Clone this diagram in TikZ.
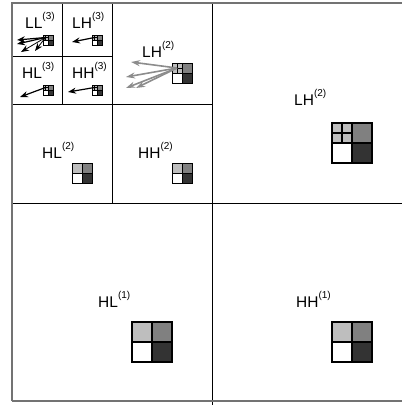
\documentclass[tikz,border=0pt]{standalone}
\usepackage{fontspec}
\setmainfont{Liberation Sans}
\usetikzlibrary{arrows.meta}
\definecolor{lg}{HTML}{BEBEBE}
\definecolor{mg}{HTML}{808080}
\definecolor{dg}{HTML}{333333}
\definecolor{ag}{HTML}{8C8C8C}
\newcommand\lbl[2]{#1\raisebox{8.5pt}{\fontsize{10}{10}\selectfont(#2)}}
\newcommand\waveicon[6]{% name, x, y, size, subdivide, line width
\begin{scope}[shift={(#2,#3)}]
\fill[lg] (0,0) rectangle ({#4/2},{#4/2});
\fill[mg] ({#4/2},0) rectangle (#4,{#4/2});
\fill[white] (0,{#4/2}) rectangle ({#4/2},#4);
\fill[dg] ({#4/2},{#4/2}) rectangle (#4,#4);
\ifnum#5=1 \draw[line width=#6] ({#4/4},0) -- ({#4/4},{#4/2}) (0,{#4/4}) -- ({#4/2},{#4/4});\fi
\draw[line width=#6] (0,0) rectangle (#4,#4) ({#4/2},0) -- ({#4/2},#4) (0,{#4/2}) -- (#4,{#4/2});
\coordinate (#1) at ({#4/4},{#4/4});
\end{scope}}
\tikzset{
  lab/.style={anchor=base west, inner sep=0pt, font=\fontsize{15.5}{17}\selectfont},
  grid/.style={black, line width=1pt},
  outer/.style={black!55, line width=1.6pt},
  barrow/.style={-{Stealth[length=8pt,width=6pt]}, line width=1.2pt, black},
  garrow/.style={-{Stealth[length=9pt,width=6pt]}, line width=1.6pt, ag},
}
\begin{document}
\begin{tikzpicture}[x=1pt,y=-1pt]
\useasboundingbox (0,0) rectangle (402,405);
\begin{scope}
\clip (0,0) rectangle (402,405);
% grid lines
\draw[grid] (212,3) -- (212,405);
\draw[grid] (12,203) -- (402,203);
\draw[grid] (112,3) -- (112,203);
\draw[grid] (12,104) -- (212,104);
\draw[grid] (62,3) -- (62,104);
\draw[grid] (12,56) -- (112,56);
% outer frame
\draw[outer] (12,401) -- (12,3) -- (404,3);
\draw[outer] (12,401) -- (404,401);
\end{scope}
% labels
\node[lab] (tLL3) at (25,28) {\lbl{LL}{3}};
\node[lab] (tLH3) at (72,28) {\lbl{LH}{3}};
\node[lab] (tHL3) at (22,78) {\lbl{HL}{3}};
\node[lab] (tHH3) at (72,78) {\lbl{HH}{3}};
\node[lab] (tLH2a) at (142,57) {\lbl{LH}{2}};
\node[lab] (tHL2) at (42,158) {\lbl{HL}{2}};
\node[lab] (tHH2) at (138,158) {\lbl{HH}{2}};
\node[lab] (tLH2b) at (294,105) {\lbl{LH}{2}};
\node[lab] (tHL1) at (98,307) {\lbl{HL}{1}};
\node[lab] (tHH1) at (296,307) {\lbl{HH}{1}};
% icons
\waveicon{iLL3}{43}{35}{10}{1}{0.8pt}
\waveicon{iLH3}{92}{35}{10}{1}{0.8pt}
\waveicon{iHL3}{43}{85}{10}{1}{0.8pt}
\waveicon{iHH3}{92}{85}{10}{1}{0.8pt}
\waveicon{iLH2a}{172}{63}{20}{1}{1pt}
\waveicon{iHL2}{72}{163}{20}{0}{1pt}
\waveicon{iHH2}{172}{163}{20}{0}{1pt}
\waveicon{iLH2b}{332}{123}{40}{1}{1.2pt}
\waveicon{iHL1}{132}{322}{40}{0}{1.2pt}
\waveicon{iHH1}{332}{322}{40}{0}{1.2pt}
% arrow end points
\coordinate (eLL3a) at (17,40);
\coordinate (eLL3b) at (17,44);
\coordinate (eLL3c) at (21,52);
\coordinate (eLL3d) at (35,51);
\coordinate (eLH3) at (72,42);
\coordinate (eHL3) at (20,97);
\coordinate (eHH3) at (68,92);
\coordinate (eLH2a) at (131,62);
\coordinate (eLH2b) at (126,77);
\coordinate (eLH2c) at (126,88);
\coordinate (eLH2d) at (136,88);
% arrows
\draw[barrow] (iLL3) -- (eLL3a);
\draw[barrow] (iLL3) -- (eLL3b);
\draw[barrow, line width=0.8pt] (iLL3) -- (eLL3c);
\draw[barrow, line width=0.8pt] (iLL3) -- (eLL3d);
\draw[barrow] (iLH3) -- (eLH3);
\draw[barrow] (iHL3) -- (eHL3);
\draw[barrow] (iHH3) -- (eHH3);
\draw[garrow] (iLH2a) -- (eLH2a);
\draw[garrow] (iLH2a) -- (eLH2b);
\draw[garrow] (iLH2a) -- (eLH2c);
\draw[garrow] (iLH2a) -- (eLH2d);
\end{tikzpicture}
\end{document}
